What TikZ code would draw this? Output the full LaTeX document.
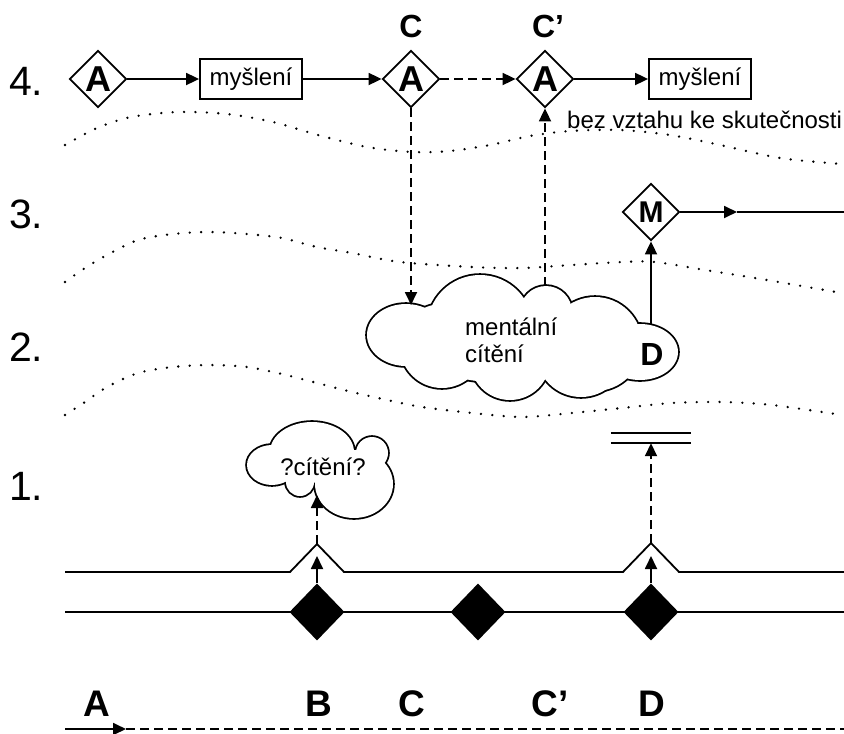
\documentclass[tikz,border=0pt]{standalone}
\usepackage{fontspec}
\setmainfont{Liberation Sans}
\usetikzlibrary{arrows.meta,shapes.geometric}
\newcommand\txtfont{\fontsize{24}{28}\selectfont}
\begin{document}
\begin{tikzpicture}[x=1pt,y=-1pt,
  lw/.style={line width=1.8pt},
  tri/.style={-{Triangle[length=13pt,width=12pt]}},
  dsh/.style={dash pattern=on 9pt off 5pt},
  dia/.style={diamond, draw, lw, fill=white, minimum width=57pt, minimum height=57pt, inner sep=0pt, font=\fontsize{36}{36}\selectfont\bfseries},
  bdia/.style={diamond, fill=black, minimum width=55pt, minimum height=57pt, inner sep=0pt},
  mbox/.style={draw, lw, minimum width=102pt, minimum height=40pt, inner sep=0pt, font=\txtfont},
  lvl/.style={anchor=base west, inner sep=0pt, font=\fontsize{41}{41}\selectfont},
  lab/.style={anchor=base, inner sep=0pt, font=\fontsize{32}{32}\selectfont\bfseries},
  blab/.style={anchor=base, inner sep=0pt, font=\fontsize{37}{37}\selectfont\bfseries},
  txt/.style={inner sep=0pt, font=\txtfont},
  dots/.style={line width=2.6pt, line cap=round, dash pattern=on 0pt off 11.4pt},
]
\useasboundingbox (0,0) rectangle (844,734);

% dotted level separators
\draw[dots] plot[smooth] coordinates {(65,145) (97,128) (131,117) (178,112) (227,114) (273,122) (318,135) (367,147) (412,152) (450,151) (490,145) (530,136) (570,131) (620,130) (670,135) (720,145) (780,158) (842,164)};
\draw[dots] plot[smooth] coordinates {(65,282) (85,268) (107,255) (138,240) (173,234) (210,232) (247,234) (282,238) (317,247) (352,253) (400,262) (472,267) (522,268) (572,265) (622,262) (655,262) (705,270) (755,278) (842,293)};
\draw[dots] plot[smooth] coordinates {(65,415) (85,402) (107,387) (138,373) (173,367) (210,365) (247,367) (282,374) (317,383) (352,392) (387,400) (422,407) (472,413) (522,417) (572,413) (622,408) (672,403) (722,402) (772,405) (842,415)};

% level numbers
\node[lvl] (l4) at (9,95) {4.};
\node[lvl] (l3) at (9,228) {3.};
\node[lvl] (l2) at (9,361) {2.};
\node[lvl] (l1) at (9,500) {1.};

% big cloud: union of puffs, outer half of a thick stroke remains
\foreach \cx/\cy/\rx/\ry in {406/335/39/31, 480/328/53/53, 546/312/26/26, 595/344/47/47, 640/352/38/28, 581/352/45/45, 510/360/40/40, 442/346/42/42}
  \draw[line width=3.6pt] (\cx,\cy) ellipse [x radius=\rx pt, y radius=\ry pt];
\foreach \cx/\cy/\rx/\ry in {406/335/39/31, 480/328/53/53, 546/312/26/26, 595/344/47/47, 640/352/38/28, 581/352/45/45, 510/360/40/40, 442/346/42/42}
  \fill[white] (\cx,\cy) ellipse [x radius=\rx pt, y radius=\ry pt];
\fill[white] (406,335) -- (480,328) -- (546,312) -- (595,344) -- (640,352) -- (581,352) -- (510,360) -- (442,346) -- cycle;
\coordinate (cl1) at (411,305);
\coordinate (cl2) at (545,286);
\coordinate (cl3) at (651,325);
\node[txt, anchor=base west] (ment1) at (465,335) {mentální};
\node[txt, anchor=base west] (ment2) at (465,362) {cítění};
\node[anchor=base, inner sep=0pt, font=\fontsize{32}{32}\selectfont\bfseries] (Dl) at (652,365) {D};

% small cloud
\foreach \cx/\cy/\rx/\ry in {272/465/25/20, 312/452/42/30, 372/453/16/16, 354/484/39/34, 300/482/14/14}
  \draw[line width=3.6pt] (\cx,\cy) ellipse [x radius=\rx pt, y radius=\ry pt];
\foreach \cx/\cy/\rx/\ry in {272/465/25/20, 312/452/42/30, 372/453/16/16, 354/484/39/34, 300/482/14/14}
  \fill[white] (\cx,\cy) ellipse [x radius=\rx pt, y radius=\ry pt];
\fill[white] (272,465) -- (312,452) -- (372,453) -- (354,484) -- (300,482) -- cycle;
\coordinate (qcl) at (317,495);
\node[txt, anchor=base] (qc) at (323,475) {?cítění?};

% level 4
\node[dia] (A1) at (98,79) {A};
\node[mbox] (m1) at (251,79) {myšlení};
\node[dia] (Cd) at (411,79) {A};
\node[dia] (Cpd) at (545,79) {A};
\node[mbox] (m2) at (700,79) {myšlení};
\node[lab] (Clab) at (411,37) {C};
\node[lab] (Cplab) at (548,37) {C’};
\node[txt, anchor=base west] (bez) at (567,128) {bez vztahu ke skutečnosti};
\draw[lw,tri] (A1.east) -- (m1.west);
\draw[lw,tri] (m1.east) -- (Cd.west);
\draw[lw,dsh,tri] (Cd.east) -- (Cpd.west);
\draw[lw,tri] (Cpd.east) -- (m2.west);
\draw[lw,dsh,tri] (Cd.south) -- (cl1);
\draw[lw,dsh,tri] (cl2) -- (Cpd.south);

% level 3
\node[dia, font=\fontsize{30}{30}\selectfont\bfseries] (M) at (651,212) {M};
\coordinate (mtip) at (737,212);
\coordinate (mend) at (844,212);
\draw[lw,tri] (M.east) -- (mtip);
\draw[lw] (mtip) -- (mend);
\draw[lw,tri] (cl3) -- (M.south);

% level 1
\coordinate (u0) at (65,572);
\coordinate (uB1) at (290,572);
\coordinate (apB) at (317,544);
\coordinate (uB2) at (344,572);
\coordinate (uD1) at (623,572);
\coordinate (apD) at (651,543);
\coordinate (uD2) at (679,572);
\coordinate (u9) at (844,572);
\draw[lw] (u0) -- (uB1) -- (apB) -- (uB2) -- (uD1) -- (apD) -- (uD2) -- (u9);
\coordinate (w0) at (65,612);
\coordinate (w9) at (844,612);
\draw[lw] (w0) -- (w9);
\node[bdia] (dB) at (317,612) {};
\node[bdia] (dC) at (478,612) {};
\node[bdia] (dD) at (651,612) {};
\coordinate (tipB) at (317,556);
\coordinate (tipD) at (651,556);
\draw[lw,tri] (dB.north) -- (tipB);
\draw[lw,tri] (dD.north) -- (tipD);
\draw[lw,dsh,tri] (apB) -- (qcl);
\node[minimum width=80pt, minimum height=10pt, inner sep=0pt] (bar) at (651,438) {};
\draw[lw] (bar.north west) -- (bar.north east);
\draw[lw] (bar.south west) -- (bar.south east);
\draw[lw,dsh,tri] (apD) -- (bar.south);

% time axis
\node[blab] (bA) at (97,716) {A};
\node[blab] (bB) at (319,716) {B};
\node[blab] (bC) at (412,716) {C};
\node[blab] (bCp) at (550,716) {C’};
\node[blab] (bD) at (652,716) {D};
\coordinate (t0) at (65,729);
\coordinate (t1) at (126,729);
\coordinate (t2) at (844,729);
\draw[lw,tri] (t0) -- (t1);
\draw[lw,dsh] (t1) -- (t2);
\end{tikzpicture}
\end{document}
